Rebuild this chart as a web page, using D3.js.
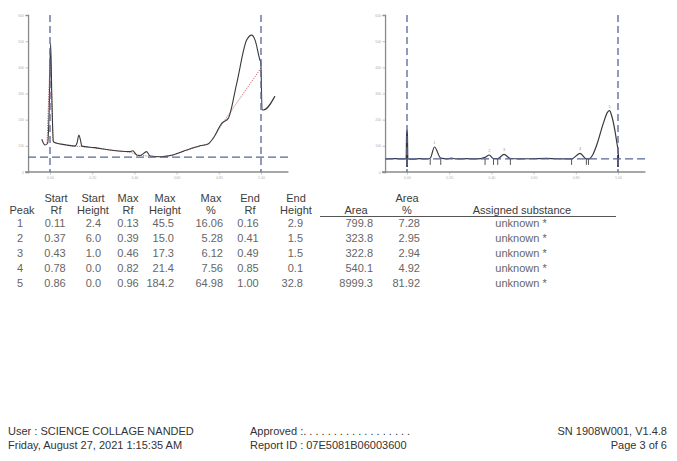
<!DOCTYPE html>
<html>
<head>
<meta charset="utf-8">
<script src="https://cdn.jsdelivr.net/npm/d3@7"></script>
<style>
  html, body { margin: 0; padding: 0; background: #fff; }
  svg { display: block; font-family: "Liberation Sans", Arial, sans-serif; }
</style>
</head>
<body>
<svg id="report" width="677" height="461"></svg>
<script>
// ---- Densitogram data (Rf, height in AU) ----
// raw scan of the track
const rawRf = [-0.039, -0.024, -0.011, -0.004, 0.003, 0.009, 0.016, 0.024, 0.079, 0.118, 0.128, 0.137, 0.147, 0.150, 0.213, 0.284, 0.379, 0.392, 0.411, 0.427, 0.458, 0.474, 0.521, 0.583, 0.648, 0.711, 0.749, 0.773, 0.814, 0.845, 0.885, 0.932, 0.956, 0.972, 0.995, 0.999, 1.005, 1.012, 1.066];
const rawHeight = [125, 103, 110, 230, 492, 275, 116, 112, 103, 99, 111, 141, 111, 99, 93, 84, 78, 81, 65, 63, 78, 61, 58, 65, 84, 100, 107, 129, 186, 205, 339, 504, 523, 504, 428, 420, 237, 237, 290];
// fitted baseline under the raw scan
const baseRf = [-0.014, 0.002, 0.014, 0.024, 0.118, 0.152, 0.213, 0.284, 0.379, 0.412, 0.464, 0.521, 0.583, 0.649, 0.711, 0.749, 0.773, 0.815, 1.000];
const baseHeight = [111, 466, 118, 111, 99, 97, 92, 84, 76, 65, 61, 58, 65, 84, 99, 107, 126, 183, 397];
// baseline-corrected scan
const corrRf = [-0.100, -0.050, -0.015, -0.004, -0.002, 0.000, 0.002, 0.004, 0.030, 0.060, 0.090, 0.110, 0.130, 0.160, 0.190, 0.210, 0.230, 0.280, 0.330, 0.370, 0.390, 0.410, 0.430, 0.460, 0.490, 0.530, 0.600, 0.660, 0.700, 0.750, 0.780, 0.820, 0.850, 0.860, 0.880, 0.900, 0.930, 0.950, 0.960, 0.970, 0.985, 0.995, 1.000, 1.003];
const corrHeight = [50, 51, 50, 50, 140, 160, 140, 50, 49, 51, 50, 52.4, 95.5, 52.9, 50, 53, 50, 51, 50, 56, 65, 51.5, 51, 67.3, 51.5, 50, 51, 52, 51, 50, 50, 71.4, 50.1, 50, 65, 105, 185, 228, 234.2, 215, 160, 110, 82.8, 50];
const rawThreshold = 57;
const corrThreshold = 50;
const yTicks = [0, 100, 200, 300, 400, 500, 600];
const xTicks = [0, 0.2, 0.4, 0.6, 0.8, 1.0];
const frontLines = [0, 1];

// ---- Peak table ----
const peakNo = [1, 2, 3, 4, 5];
const startRf = [0.11, 0.37, 0.43, 0.78, 0.86];
const startHeight = [2.4, 6.0, 1.0, 0.0, 0.0];
const maxRf = [0.13, 0.39, 0.46, 0.82, 0.96];
const maxHeight = [45.5, 15.0, 17.3, 21.4, 184.2];
const maxPct = [16.06, 5.28, 6.12, 7.56, 64.98];
const endRf = [0.16, 0.41, 0.49, 0.85, 1.00];
const endHeight = [2.9, 1.5, 1.5, 0.1, 32.8];
const area = [799.8, 323.8, 322.8, 540.1, 8999.3];
const areaPct = [7.28, 2.95, 2.94, 4.92, 81.92];
const substance = ["unknown *", "unknown *", "unknown *", "unknown *", "unknown *"];

// ---- Footer ----
const footerLeft = ["User : SCIENCE COLLAGE NANDED", "Friday, August 27, 2021 1:15:35 AM"];
const footerMid = ["Approved :. . . . . . . . . . . . . . . . . .", "Report ID : 07E5081B06003600"];
const footerRight = ["SN 1908W001, V1.4.8", "Page 3 of 6"];

const svg = d3.select("#report");
const dashColor = "#56659a";

function drawPanel(g, x0, opts) {
  const x = d3.scaleLinear().domain([-0.104, 1.13]).range([x0 - 0.104 * 211, x0 + 1.13 * 211]);
  const y = d3.scaleLinear().domain([0, 600]).range([172, 15]);

  // axes
  const yAxis = d3.axisLeft(y).tickValues(yTicks).tickSize(2.5).tickFormat(d3.format("d"));
  const ay = g.append("g").attr("transform", `translate(${x.range()[0]},0)`).call(yAxis);
  const xAxis = d3.axisBottom(x).tickValues(xTicks).tickSize(2.5).tickFormat(d3.format(".2f"));
  const ax = g.append("g").attr("transform", `translate(0,${y(0)})`).call(xAxis);
  [ay, ax].forEach(a => {
    a.select(".domain").attr("stroke", "#8a8a8a").attr("stroke-width", 1.3);
    a.selectAll(".tick line").attr("stroke", "#999").attr("stroke-width", 0.6);
    a.selectAll(".tick text").attr("fill", "#b0b0b0").style("font-size", "3.5px");
  });
  ax.select(".domain").attr("d", `M${x.range()[0] - 3},0H${x.range()[1]}`);
  ay.selectAll(".tick text").attr("x", -4);
  ax.selectAll(".tick text").attr("y", 4.5);

  const line = d3.line().x(d => x(d[0])).y(d => y(d[1]));

  if (opts.baseline) {
    g.append("path")
      .datum(d3.zip(opts.baseline[0], opts.baseline[1]))
      .attr("d", line).attr("fill", "none")
      .attr("stroke", "#c46a6a").attr("stroke-width", 1).attr("stroke-dasharray", "1.2,1.2");
  }

  g.append("path")
    .datum(d3.zip(opts.rf, opts.h))
    .attr("d", line.curve(d3.curveMonotoneX)).attr("fill", "none")
    .attr("stroke", "#3a3a3a").attr("stroke-width", opts.marks ? 1.2 : 1.1);

  if (opts.marks) {
    const edges = startRf.concat(endRf.slice(0, 4));
    g.selectAll("line.edge").data(edges).enter().append("line")
      .attr("class", "edge")
      .attr("x1", d => x(d)).attr("x2", d => x(d))
      .attr("y1", y(opts.threshold)).attr("y2", y(opts.threshold) + 6)
      .attr("stroke", "#444").attr("stroke-width", 0.9);
    g.selectAll("line.frontmark").data(frontLines).enter().append("line")
      .attr("class", "frontmark")
      .attr("x1", d => x(d)).attr("x2", d => x(d))
      .attr("y1", y(opts.threshold) - 4).attr("y2", y(opts.threshold) + 8)
      .attr("stroke", "#223").attr("stroke-width", 1.6);
    g.selectAll("text.pk").data(peakNo).enter().append("text")
      .attr("class", "pk")
      .attr("x", (d, i) => x(maxRf[i]))
      .attr("y", (d, i) => y(maxHeight[i] + opts.threshold) - 3)
      .attr("text-anchor", "middle").attr("fill", "#999").style("font-size", "4px")
      .text(d => d);
  }

  // threshold line
  g.append("line")
    .attr("x1", x.range()[0]).attr("x2", x.range()[1])
    .attr("y1", y(opts.threshold)).attr("y2", y(opts.threshold))
    .attr("stroke", dashColor).attr("stroke-width", 1.4).attr("stroke-dasharray", "8,4");

  // application position and solvent front
  g.selectAll("line.front").data(frontLines).enter().append("line")
    .attr("class", "front")
    .attr("x1", d => x(d)).attr("x2", d => x(d))
    .attr("y1", y(600)).attr("y2", y(0))
    .attr("stroke", dashColor).attr("stroke-width", 1.3).attr("stroke-dasharray", "7,4");
}

drawPanel(svg.append("g"), 50, { rf: rawRf, h: rawHeight, baseline: [baseRf, baseHeight], threshold: rawThreshold });
drawPanel(svg.append("g"), 407, { rf: corrRf, h: corrHeight, threshold: corrThreshold, marks: true });

// ---- Table ----
const fmt1 = d3.format(".1f"), fmt2 = d3.format(".2f");
const columns = [
  { h: ["", "Peak"], hx: 22, vx: 20, va: "middle", v: peakNo.map(String) },
  { h: ["Start", "Rf"], hx: 56, vx: 55, va: "middle", v: startRf.map(fmt2) },
  { h: ["Start", "Height"], hx: 93, vx: 101, va: "end", v: startHeight.map(fmt1) },
  { h: ["Max", "Rf"], hx: 128, vx: 128, va: "middle", v: maxRf.map(fmt2) },
  { h: ["Max", "Height"], hx: 165, vx: 174, va: "end", v: maxHeight.map(fmt1) },
  { h: ["Max", "%"], hx: 211, vx: 223, va: "end", v: maxPct.map(fmt2) },
  { h: ["End", "Rf"], hx: 250, vx: 248, va: "middle", v: endRf.map(fmt2) },
  { h: ["End", "Height"], hx: 296, vx: 303, va: "end", v: endHeight.map(fmt1) },
  { h: ["", "Area"], hx: 356, vx: 373, va: "end", v: area.map(fmt1) },
  { h: ["Area", "%"], hx: 407, vx: 420, va: "end", v: areaPct.map(fmt2) },
  { h: ["", "Assigned substance"], hx: 522, vx: 521, va: "middle", v: substance }
];
const table = svg.append("g").style("font-size", "11px");
columns.forEach(c => {
  c.h.forEach((t, k) => {
    if (!t) return;
    table.append("text").attr("x", c.hx).attr("y", 202 + k * 11.5)
      .attr("text-anchor", "middle").attr("fill", "#3c3c3c").text(t);
  });
  c.v.forEach((t, r) => {
    table.append("text").attr("x", c.vx).attr("y", 226.5 + r * 15.1)
      .attr("text-anchor", c.va).attr("fill", "#666").text(t);
  });
});
table.append("line").attr("x1", 320).attr("x2", 616).attr("y1", 216.5).attr("y2", 216.5)
  .attr("stroke", "#555").attr("stroke-width", 1.2);

// ---- Footer ----
const foot = svg.append("g").style("font-size", "11px").attr("fill", "#333");
[[footerLeft, 8, "start"], [footerMid, 250, "start"], [footerRight, 667, "end"]].forEach(([lines, fx, anchor]) => {
  lines.forEach((t, k) => {
    foot.append("text").attr("x", fx).attr("y", 435 + k * 13.5).attr("text-anchor", anchor).text(t);
  });
});
</script>
</body>
</html>
